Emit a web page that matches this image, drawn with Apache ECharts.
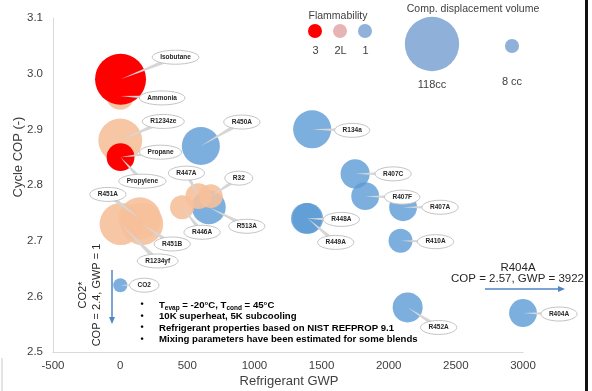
<!DOCTYPE html>
<html>
<head>
<meta charset="utf-8">
<script src="https://cdn.jsdelivr.net/npm/echarts@6/dist/echarts.min.js"></script>
<style>
  html, body { margin: 0; padding: 0; background: #ffffff; }
  #chart { width: 592px; height: 391px; }
</style>
</head>
<body>
<div id="chart"></div>
<script>
// Refrigerant screening: cycle COP vs GWP, bubble area = compressor displacement volume
const refrigerants = ['Isobutane', 'Ammonia', 'R1234ze', 'Propane', 'Propylene', 'R450A', 'R134a',
  'R407C', 'R407F', 'R407A', 'R448A', 'R449A', 'R410A', 'R452A', 'R404A', 'CO2',
  'R1234yf', 'R451A', 'R451B', 'R446A', 'R447A', 'R32', 'R513A'];
const gwp = [3, 0, 1, 3, 2, 601, 1430,
  1750, 1825, 2107, 1387, 1397, 2088, 2141, 3000, 1,
  4, 147, 164, 461, 583, 675, 660];
const cop = [2.99, 2.96, 2.88, 2.85, 2.85, 2.87, 2.90,
  2.82, 2.78, 2.76, 2.74, 2.74, 2.70, 2.58, 2.57, 2.62,
  2.73, 2.74, 2.73, 2.76, 2.78, 2.78, 2.76];
const displacement = [104, 31, 77, 31, 23, 58, 58,
  34, 31, 31, 38, 38, 23, 36, 31, 8,
  71, 71, 71, 23, 27, 23, 46];
const flammability = ['3', '2L', '2L', '3', '3', '1', '1',
  '1', '1', '1', '1', '1', '1', '1', '1', '1',
  '2L', '2L', '2L', '2L', '2L', '2L', '1'];

const flammabilityClasses = ['3', '2L', '1'];
const legendVolumes = [118, 8];
const legendVolumeLabels = ['118cc', '8 cc'];
const notes = [
  'T{s|evap} = -20°C, T{s|cond} = 45°C',
  '10K superheat, 5K subcooling',
  'Refrigerant properties based on NIST REFPROP 9.1',
  'Mixing parameters have been estimated for some blends'
];

// ---- styling / layout ----
const FONT = '"Liberation Sans", Arial, Helvetica, sans-serif';
const classColor = { '3': '#ff0000', '2L': '#f6c09b', '1': '#5b9bd5' };
const classOpacity = { '3': 1, '2L': 0.9, '1': 0.8 };
const legendDotColor = { '3': '#ff0000', '2L': '#e6b4b4', '1': '#8fb1da' };

// callout bubble offsets (px) from each mark's centre
const calloutOffset = {
  'Isobutane': [55, -22], 'Ammonia': [42, 2], 'R1234ze': [43, -19], 'Propane': [40, -5],
  'Propylene': [22, 24], 'R450A': [41, -24], 'R134a': [40, 1], 'R407C': [38, 0],
  'R407F': [37, 1], 'R407A': [37, 0], 'R448A': [35, 1], 'R449A': [28, 24],
  'R410A': [35, 1], 'R452A': [31, 20], 'R404A': [36, 1], 'CO2': [24, 0],
  'R1234yf': [37, 37], 'R451A': [-32, -24], 'R451B': [30, 20], 'R446A': [20, 25],
  'R447A': [-12, -23], 'R32': [28, -18], 'R513A': [38, 19]
};

function bubbleDiameter(volume) { return 5 * Math.sqrt(volume); }

const measureCtx = document.createElement('canvas').getContext('2d');
const CALLOUT_FONT = 'bold 6.5px ' + FONT;
function textWidth(t) { measureCtx.font = CALLOUT_FONT; return measureCtx.measureText(t).width; }

function bubbleSeries(cls) {
  const data = [];
  refrigerants.forEach((n, i) => {
    if (flammability[i] === cls) data.push({ name: n, value: [gwp[i], cop[i], displacement[i]] });
  });
  return {
    type: 'scatter', name: cls, data: data,
    symbolSize: v => bubbleDiameter(v[2]),
    itemStyle: { color: classColor[cls], opacity: classOpacity[cls] },
    emphasis: { disabled: true }, silent: true, z: 2
  };
}

function renderCallout(params, api) {
  const name = refrigerants[params.dataIndex];
  const p = api.coord([api.value(0), api.value(1)]);
  const off = calloutOffset[name];
  const cx = p[0] + off[0], cy = p[1] + off[1];
  const rx = textWidth(name) / 2 + 8, ry = 7;
  const dx = cx - p[0], dy = cy - p[1];
  const len = Math.hypot(dx, dy) || 1;
  const nx = -dy / len, ny = dx / len, hw = 2.5;
  return {
    type: 'group',
    children: [
      { type: 'polygon', shape: { points: [[p[0], p[1]], [cx + nx * hw, cy + ny * hw], [cx - nx * hw, cy - ny * hw]] },
        style: { fill: '#d6d6d6' } },
      { type: 'ellipse', shape: { cx: cx, cy: cy, rx: rx, ry: ry },
        style: { fill: '#ffffff', stroke: '#c4c4c4', lineWidth: 1 } },
      { type: 'text', x: cx, y: cy,
        style: { text: name, font: CALLOUT_FONT, fill: '#262626', align: 'center', verticalAlign: 'middle' } }
    ]
  };
}

// ---- annotation graphics ----
const graphics = [];
const legendX = [315, 340, 365];
graphics.push({ type: 'text', x: 338, y: 16, style: { text: 'Flammability', font: '10.5px ' + FONT, fill: '#404040', align: 'center', verticalAlign: 'middle' } });
flammabilityClasses.forEach((c, k) => {
  graphics.push({ type: 'circle', shape: { cx: legendX[k], cy: 31, r: 7 }, style: { fill: legendDotColor[c] } });
  graphics.push({ type: 'text', x: legendX[k] + 0.5, y: 51, style: { text: c, font: '11px ' + FONT, fill: '#404040', align: 'center', verticalAlign: 'middle' } });
});
graphics.push({ type: 'text', x: 473, y: 9, style: { text: 'Comp. displacement volume', font: '10.5px ' + FONT, fill: '#404040', align: 'center', verticalAlign: 'middle' } });
const volumeLegendPos = [[432, 44, 85], [512, 46, 82]];
legendVolumes.forEach((v, k) => {
  const pos = volumeLegendPos[k];
  graphics.push({ type: 'circle', shape: { cx: pos[0], cy: pos[1], r: bubbleDiameter(v) / 2 }, style: { fill: '#8fb0d9' } });
  graphics.push({ type: 'text', x: pos[0], y: pos[2], style: { text: legendVolumeLabels[k], font: '11px ' + FONT, fill: '#404040', align: 'center', verticalAlign: 'middle' } });
});

// CO2 off-scale note with downward arrow
graphics.push({ type: 'text', x: 90, y: 295, rotation: Math.PI / 2,
  style: { text: 'CO2*\nCOP = 2.4, GWP = 1', font: '11px ' + FONT, lineHeight: 14, fill: '#262626', align: 'center', verticalAlign: 'middle' } });
graphics.push({ type: 'line', shape: { x1: 112, y1: 270, x2: 112, y2: 318 }, style: { stroke: '#4f86c6', lineWidth: 1.5 } });
graphics.push({ type: 'polygon', shape: { points: [[109, 317], [115, 317], [112, 324]] }, style: { fill: '#4f86c6' } });

// R404A off-scale note with rightward arrow
graphics.push({ type: 'text', x: 518, y: 268, style: { text: 'R404A', font: '11.5px ' + FONT, fill: '#262626', align: 'center', verticalAlign: 'middle' } });
graphics.push({ type: 'text', x: 584, y: 279, style: { text: 'COP = 2.57, GWP = 3922', font: '11.5px ' + FONT, fill: '#262626', align: 'right', verticalAlign: 'middle' } });
graphics.push({ type: 'line', shape: { x1: 485, y1: 289, x2: 559, y2: 289 }, style: { stroke: '#4f86c6', lineWidth: 1.5 } });
graphics.push({ type: 'polygon', shape: { points: [[558, 286], [558, 292], [565, 289]] }, style: { fill: '#4f86c6' } });

// bullet notes
const noteY = [305, 316.5, 328, 339.5];
notes.forEach((t, k) => {
  graphics.push({ type: 'text', x: 142, y: noteY[k], style: { text: '•', font: 'bold 9px ' + FONT, fill: '#000', align: 'center', verticalAlign: 'middle' } });
  graphics.push({ type: 'text', x: 159, y: noteY[k],
    style: { text: t, fontFamily: FONT, fontSize: 9.6, fontWeight: 'bold', fill: '#000', lineHeight: 13, align: 'left', verticalAlign: 'middle',
      rich: { s: { fontFamily: FONT, fontSize: 6.5, fontWeight: 'bold', fill: '#000', verticalAlign: 'bottom', lineHeight: 7 } } } });
});

// axis titles
graphics.push({ type: 'text', x: 18, y: 157, rotation: Math.PI / 2,
  style: { text: 'Cycle COP (-)', font: '13px ' + FONT, fill: '#404040', align: 'center', verticalAlign: 'middle' } });
graphics.push({ type: 'text', x: 289, y: 381,
  style: { text: 'Refrigerant GWP', font: '13px ' + FONT, fill: '#404040', align: 'center', verticalAlign: 'middle' } });

// frame edges
graphics.push({ type: 'rect', shape: { x: 585, y: 0, width: 3, height: 391 }, style: { fill: '#111111' } });
graphics.push({ type: 'line', shape: { x1: 2, y1: 358, x2: 2, y2: 391 }, style: { stroke: '#c8c8c8', lineWidth: 1 } });

const chart = echarts.init(document.getElementById('chart'), null, { renderer: 'canvas' });
chart.setOption({
  animation: false,
  backgroundColor: '#ffffff',
  grid: { left: 53, right: 69, top: 18, bottom: 39, containLabel: false },
  xAxis: {
    type: 'value', min: -500, max: 3000, interval: 500,
    axisLine: { show: true, onZero: false, lineStyle: { color: '#d9d9d9', width: 1 } },
    axisTick: { show: false }, splitLine: { show: false },
    axisLabel: { color: '#404040', fontSize: 11.5, fontFamily: FONT, margin: 8, formatter: v => String(v) }
  },
  yAxis: {
    type: 'value', min: 2.5, max: 3.1, interval: 0.1,
    axisLine: { show: true, onZero: false, lineStyle: { color: '#d9d9d9', width: 1 } },
    axisTick: { show: false }, splitLine: { show: false },
    axisLabel: { color: '#404040', fontSize: 11.5, fontFamily: FONT, margin: 10, formatter: v => v.toFixed(1) }
  },
  series: [
    bubbleSeries('1'),
    bubbleSeries('2L'),
    bubbleSeries('3'),
    {
      type: 'custom', name: 'callouts', coordinateSystem: 'cartesian2d',
      data: refrigerants.map((n, i) => [gwp[i], cop[i]]),
      encode: { x: 0, y: 1 },
      renderItem: renderCallout, silent: true, z: 5, clip: false
    }
  ],
  graphic: { elements: graphics }
});
</script>
</body>
</html>
